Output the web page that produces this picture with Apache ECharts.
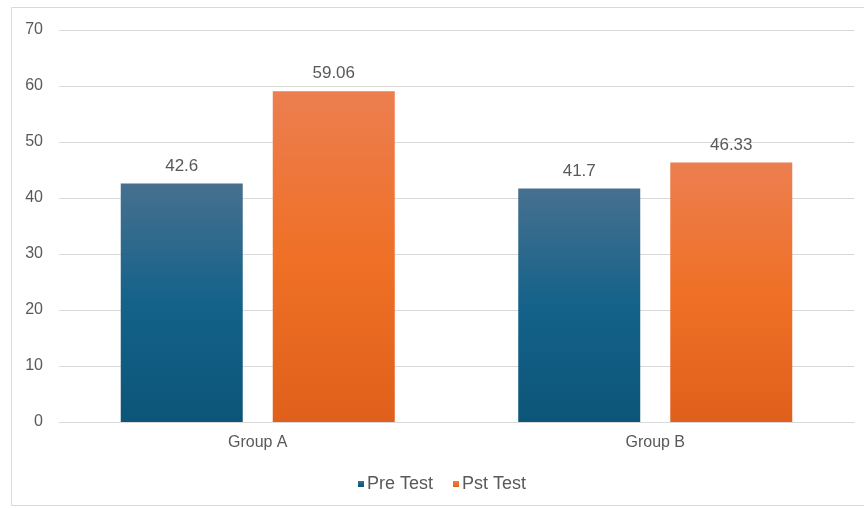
<!DOCTYPE html>
<html>
<head>
<meta charset="utf-8">
<script src="https://cdn.jsdelivr.net/npm/echarts@6/dist/echarts.min.js"></script>
<style>
  html, body { margin: 0; padding: 0; background: #ffffff; }
  #chart { width: 864px; height: 508px; }
</style>
</head>
<body>
<div id="chart"></div>
<script>
// Mean scores per group, before and after
const categories = ['Group A', 'Group B'];
const preTest = [42.6, 41.7];
const pstTest = [59.06, 46.33];
const seriesNames = ['Pre Test', 'Pst Test'];
const yTicks = { min: 0, max: 70, interval: 10 };

const textColor = '#595959';
const fontFamily = '"Liberation Sans", Arial, sans-serif';

function vGrad(top, mid, bottom) {
  return new echarts.graphic.LinearGradient(0, 0, 0, 1, [
    { offset: 0, color: top },
    { offset: 0.5, color: mid },
    { offset: 1, color: bottom }
  ]);
}

const blue = vGrad('#47708f', '#14628a', '#0c5578');
const orange = vGrad('#ec7e50', '#ef7026', '#e0601b');

const chart = echarts.init(document.getElementById('chart'), null, { renderer: 'canvas' });

const labelStyle = {
  show: true,
  position: 'top',
  distance: 9,
  color: textColor,
  fontSize: 17,
  fontFamily: fontFamily
};

chart.setOption({
  backgroundColor: '#ffffff',
  animation: false,
  graphic: [{
    type: 'rect',
    shape: { x: 11.5, y: 7.5, width: 870, height: 498 },
    style: { fill: 'none', stroke: '#d9d9d9', lineWidth: 1 },
    silent: true,
    z: -1
  }],
  grid: { left: 59, right: 10, top: 30, bottom: 86, containLabel: false },
  legend: {
    data: seriesNames,
    bottom: 10,
    left: 353,
    icon: 'rect',
    itemWidth: 6,
    itemHeight: 6,
    itemGap: 20,
    textStyle: { color: textColor, fontSize: 18, fontFamily: fontFamily, padding: [0, 0, 0, -2] }
  },
  xAxis: {
    type: 'category',
    data: categories,
    axisLine: { show: true, lineStyle: { color: '#d9d9d9', width: 1 } },
    axisTick: { show: false },
    axisLabel: { color: textColor, fontSize: 16, fontFamily: fontFamily, margin: 13 }
  },
  yAxis: {
    type: 'value',
    min: yTicks.min,
    max: yTicks.max,
    interval: yTicks.interval,
    axisLine: { show: false },
    axisTick: { show: false },
    splitLine: { lineStyle: { color: '#d9d9d9', width: 1 } },
    axisLabel: { color: textColor, fontSize: 16, fontFamily: fontFamily, margin: 16 }
  },
  series: [
    {
      name: seriesNames[0],
      type: 'bar',
      data: preTest,
      barWidth: 122,
      barGap: '24.6%',
      itemStyle: { color: blue },
      label: labelStyle
    },
    {
      name: seriesNames[1],
      type: 'bar',
      data: pstTest,
      barWidth: 122,
      barGap: '24.6%',
      itemStyle: { color: orange },
      label: labelStyle
    }
  ]
});
</script>
</body>
</html>
